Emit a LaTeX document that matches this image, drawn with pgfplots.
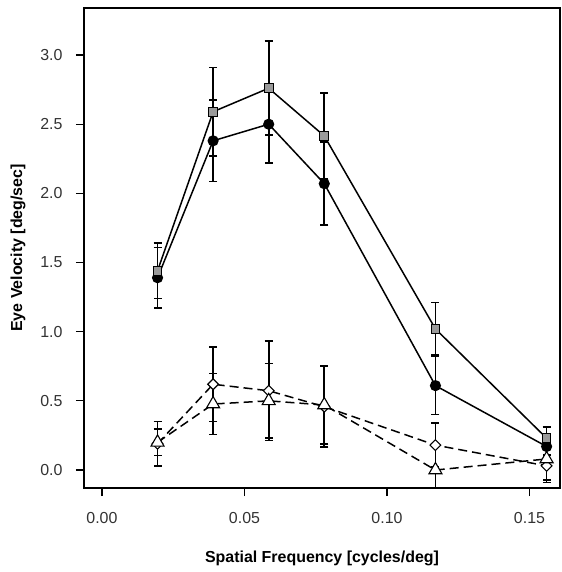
\documentclass[border=0pt]{standalone}
\usepackage{pgfplots}
\pgfplotsset{compat=1.18}
\usepackage{fontspec}
\setmainfont{Liberation Sans}
\definecolor{sqgray}{HTML}{9A9A9A}
\begin{document}
\begin{tikzpicture}
\begin{axis}[
  scale only axis, width=476bp, height=480bp,
  xmin=-0.0063, xmax=0.1607, ymin=-0.13, ymax=3.34,
  xtick={0,0.05,0.1,0.15}, ytick={0,0.5,1.0,1.5,2.0,2.5,3.0},
  scaled x ticks=false, scaled y ticks=false,
  xticklabel style={/pgf/number format/fixed, /pgf/number format/fixed zerofill, /pgf/number format/precision=2, yshift=-13bp},
  yticklabel style={/pgf/number format/fixed, /pgf/number format/fixed zerofill, /pgf/number format/precision=1, xshift=-10bp},
  /pgf/number format/assume math mode=true,
  tick align=outside, major tick length=8bp,
  xtick pos=bottom, ytick pos=left,
  tick style={black, line width=1.2bp},
  axis line style={line width=1.3bp},
  ticklabel style={font=\fontsize{16}{19}\selectfont, text=black!80},
  label style={font=\bfseries\fontsize{16}{19}\selectfont},
  xlabel={Spatial Frequency [cycles/deg]},
  ylabel={Eye Velocity [deg/sec]},
  xlabel style={yshift=-20bp},
  ylabel style={yshift=8bp},
  error bars/error bar style={line width=1.6bp, black, solid},
  error bars/error mark options={line width=1.6bp, black, solid, mark size=4bp, rotate=90},
]
% circles
\addplot[black, line width=1.5bp, solid, mark=*, mark size=4.8bp, mark options={fill=black, draw=black, solid},
  error bars/.cd, y dir=both, y explicit] table[x=x, y=y, y error=e] {
x y e
0.0195 1.39 0.22
0.039 2.38 0.295
0.0585 2.50 0.28
0.078 2.07 0.30
0.117 0.61 0.21
0.156 0.17 0.06
};
% squares
\addplot[black, line width=1.5bp, solid, mark=square*, mark size=4.3bp, mark options={fill=sqgray, draw=black, line width=1bp, solid},
  error bars/.cd, y dir=both, y explicit] table[x=x, y=y, y error=e] {
x y e
0.0195 1.44 0.20
0.039 2.59 0.32
0.0585 2.76 0.34
0.078 2.415 0.31
0.117 1.02 0.19
0.156 0.23 0.08
};
% diamonds
\addplot[black, line width=1.5bp, dash pattern=on 9bp off 5bp, mark=square*, mark size=3.8bp, mark options={fill=white, draw=black, line width=1.1bp, solid, rotate=45},
  error bars/.cd, y dir=both, y explicit] table[x=x, y=y, y error=e] {
x y e
0.0195 0.19 0.16
0.039 0.62 0.27
0.0585 0.573 0.36
0.078 0.458 0.29
0.117 0.18 0.16
0.156 0.03 0.12
};
% triangles
\addplot[black, line width=1.5bp, dash pattern=on 9bp off 5bp, mark=triangle*, mark size=7.5bp, mark options={fill=white, draw=black, line width=1.1bp, solid},
  error bars/.cd, y dir=both, y explicit] table[x=x, y=y, y error=e] {
x y e
0.0195 0.20 0.095
0.039 0.477 0.22
0.0585 0.50 0.27
0.078 0.47 0.28
0.117 0.0 0.17
0.156 0.08 0.15
};
\end{axis}
\pgfresetboundingbox
\path ([shift={(-84bp,-84bp)}]current axis.south west) rectangle ([shift={(2bp,8bp)}]current axis.north east);
\end{tikzpicture}
\end{document}
